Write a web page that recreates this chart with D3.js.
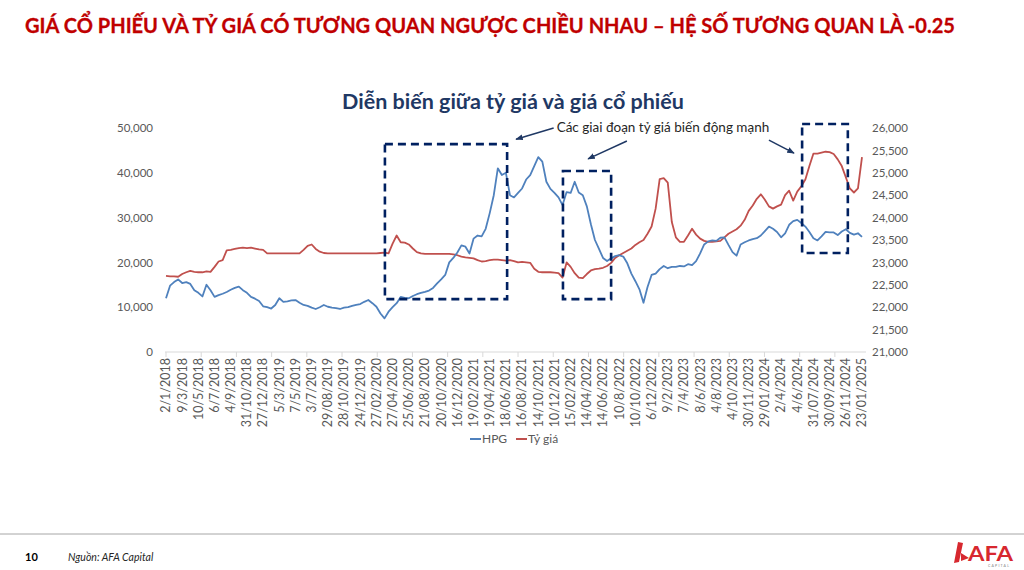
<!DOCTYPE html>
<html lang="vi">
<head>
    <meta charset="UTF-8">
    <title>Diễn biến giữa tỷ giá và giá cổ phiếu</title>
    <script src="https://cdn.jsdelivr.net/npm/d3@7"></script>
    <style>
        body { margin: 0; background: #fff; }
        svg { display: block; font-family: Lato, "Open Sans", sans-serif; }
    </style>
</head>
<body>
<svg></svg>
<script>
    // date labels every 40 trading days; one sample every 10 trading days
    const dateLabels = ["2/1/2018","9/3/2018","10/5/2018","6/7/2018","4/9/2018","31/10/2018","27/12/2018",
        "5/3/2019","7/5/2019","3/7/2019","29/08/2019","28/10/2019","24/12/2019",
        "27/02/2020","27/04/2020","25/06/2020","21/08/2020","20/10/2020","16/12/2020",
        "19/02/2021","19/04/2021","18/06/2021","16/08/2021","14/10/2021","10/12/2021",
        "15/02/2022","14/04/2022","14/06/2022","10/8/2022","10/10/2022","6/12/2022",
        "9/2/2023","7/4/2023","8/6/2023","4/8/2023","4/10/2023","30/11/2023",
        "29/01/2024","2/4/2024","4/6/2024","31/07/2024","30/09/2024","26/11/2024","23/01/2025"];
    const labelStep = 40, tickStep = 87, sampleStep = 10;

    const hpg = [
        12000,14800,15600,16200,15400,15600,15200,13800,13200,12400,
        15000,13800,12300,12700,13000,13400,13900,14300,14600,13800,
        13200,12300,11900,11400,10200,10000,9700,10500,12000,11200,
        11300,11500,11600,11000,10500,10300,9900,9600,10000,10500,
        10100,9900,9800,9600,9900,10000,10300,10500,10700,11200,
        11600,10900,10100,8600,7500,9000,10000,10900,12300,12100,
        12000,12500,12900,13200,13400,13700,14300,15300,16200,17200,
        20000,21000,22200,23800,23500,22000,25300,26000,25800,27500,
        31000,35000,41000,39500,40000,35000,34500,35500,36500,38500,
        39500,41500,43500,42500,38000,36400,35500,34500,32800,35700,
        35500,38000,35600,35000,32500,28500,25000,23000,21000,20300,
        20900,21400,21600,21300,19800,17500,15800,14000,11000,14500,
        17200,17500,18500,19200,18700,19000,19000,19200,19100,19600,
        19400,20300,22000,24000,24700,24900,24800,25500,25600,23900,
        22300,21500,24000,24500,24900,25200,25400,26000,27000,28000,
        27500,26800,25600,26500,28400,29200,29500,28800,28000,26800,
        25400,24900,25800,26800,26700,26700,26100,26900,27400,26600,
        26200,26500,25700];

    const tyGia = [
        22700,22690,22690,22680,22740,22780,22810,22790,22780,22780,
        22800,22790,22900,23020,23050,23270,23280,23300,23320,23330,
        23320,23330,23310,23290,23280,23200,23200,23200,23200,23200,
        23200,23200,23200,23200,23280,23370,23400,23300,23240,23210,
        23200,23200,23200,23200,23200,23200,23200,23200,23200,23200,
        23200,23200,23200,23210,23220,23200,23420,23600,23450,23440,
        23400,23310,23230,23200,23190,23190,23190,23190,23190,23190,
        23190,23180,23160,23130,23110,23100,23090,23050,23020,23030,
        23050,23060,23060,23050,23040,23050,23030,23000,23010,23000,
        22990,22860,22790,22780,22780,22780,22770,22760,22660,23000,
        22900,22760,22660,22650,22740,22820,22850,22860,22880,22920,
        22990,23100,23160,23210,23260,23310,23390,23450,23500,23640,
        23800,24200,24860,24880,24780,23900,23560,23460,23460,23600,
        23750,23620,23530,23480,23460,23460,23470,23480,23560,23640,
        23690,23740,23820,23950,24150,24270,24420,24520,24400,24250,
        24200,24250,24290,24500,24600,24380,24580,24700,24850,25150,
        25430,25430,25450,25470,25460,25420,25300,25150,24900,24650,
        24560,24650,25350];

    const leftTicks = [0, 10000, 20000, 30000, 40000, 50000];
    const rightTicks = [21000, 21500, 22000, 22500, 23000, 23500, 24000, 24500, 25000, 25500, 26000];

    // boxes: [startDay, endDay, lowHPG, highHPG]
    const boxes = [[541, 843, 11800, 46400], [981, 1100, 11800, 40400], [1572, 1685, 22100, 50900]];
    // arrows: [fromDay, fromHPG, toDay, toHPG]
    const arrows = [[958, 50000, 865, 47500], [1139, 47100, 1043, 43100], [1490, 47300, 1552, 44400]];
    const noteText = "Các giai đoạn tỷ giá biến động mạnh";

    const width = 1024, height = 570;
    const blue = "#4f81bd", red = "#c0504d", navy = "#002060", grey = "#595959";

    const svg = d3.select("svg")
        .attr("width", width)
        .attr("height", height)
        .attr("viewBox", `0 0 ${width} ${height}`);

    const lastDay = (hpg.length - 1) * sampleStep;
    const x = d3.scaleLinear().domain([0, lastDay]).range([166, 862]);
    const yL = d3.scaleLinear().domain([0, 50000]).range([352, 128]);
    const yR = d3.scaleLinear().domain([21000, 26000]).range([352, 128]);
    const fmt = d3.format(",");

    // header
    svg.append("text")
        .attr("x", 25).attr("y", 33)
        .attr("fill", "#c00000")
        .attr("font-weight", "bold")
        .attr("font-size", 21)
        .attr("stroke", "#c00000").attr("stroke-width", 0.3)
        .attr("textLength", 930)
        .attr("lengthAdjust", "spacingAndGlyphs")
        .text("GIÁ CỔ PHIẾU VÀ TỶ GIÁ CÓ TƯƠNG QUAN NGƯỢC CHIỀU NHAU – HỆ SỐ TƯƠNG QUAN LÀ -0.25");

    svg.append("text")
        .attr("x", 513).attr("y", 109)
        .attr("text-anchor", "middle")
        .attr("fill", "#1f3864")
        .attr("font-weight", "bold")
        .attr("font-size", 21.5)
        .text("Diễn biến giữa tỷ giá và giá cổ phiếu");

    // axes
    const axisL = svg.append("g")
        .attr("transform", "translate(158,0)")
        .call(d3.axisLeft(yL).tickValues(leftTicks).tickFormat(fmt).tickSize(0).tickPadding(5));
    const axisR = svg.append("g")
        .attr("transform", "translate(867,0)")
        .call(d3.axisRight(yR).tickValues(rightTicks).tickFormat(fmt).tickSize(0).tickPadding(5));
    [axisL, axisR].forEach(g => {
        g.select(".domain").remove();
        g.selectAll("text").attr("fill", grey).attr("font-size", 11.5).attr("font-family", "Lato, sans-serif");
    });

    const axisX = svg.append("g").attr("transform", `translate(0,${yL(0)})`);
    axisX.append("line")
        .attr("x1", 165).attr("x2", 866)
        .attr("stroke", "#d9d9d9");
    axisX.selectAll("line.tick")
        .data(d3.range(0, lastDay + 1, tickStep))
        .join("line")
        .attr("class", "tick")
        .attr("x1", d => x(d)).attr("x2", d => x(d))
        .attr("y1", 0).attr("y2", 5)
        .attr("stroke", "#d9d9d9");
    axisX.selectAll("text")
        .data(dateLabels)
        .join("text")
        .attr("transform", (d, i) => `translate(${x(i * labelStep)},6) rotate(-90)`)
        .attr("text-anchor", "end")
        .attr("dy", "0.35em")
        .attr("fill", grey)
        .attr("font-size", 12.5)
        .text(d => d);

    // lines
    const line = yScale => d3.line()
        .x((d, i) => x(i * sampleStep))
        .y(d => yScale(d));

    svg.append("path")
        .datum(tyGia)
        .attr("fill", "none")
        .attr("stroke", red)
        .attr("stroke-width", 1.8)
        .attr("stroke-linejoin", "round")
        .attr("d", line(yR));

    svg.append("path")
        .datum(hpg)
        .attr("fill", "none")
        .attr("stroke", blue)
        .attr("stroke-width", 1.8)
        .attr("stroke-linejoin", "round")
        .attr("d", line(yL));

    // annotation boxes and arrows
    svg.append("g")
        .selectAll("rect")
        .data(boxes)
        .join("rect")
        .attr("x", d => x(d[0]))
        .attr("y", d => yL(d[3]))
        .attr("width", d => x(d[1]) - x(d[0]))
        .attr("height", d => yL(d[2]) - yL(d[3]))
        .attr("fill", "none")
        .attr("stroke", navy)
        .attr("stroke-width", 2.6)
        .attr("stroke-dasharray", "8,5");

    svg.append("defs").append("marker")
        .attr("id", "head")
        .attr("viewBox", "0 0 10 10")
        .attr("refX", 9).attr("refY", 5)
        .attr("markerWidth", 5).attr("markerHeight", 5)
        .attr("orient", "auto")
        .append("path")
        .attr("d", "M0,1L10,5L0,9z")
        .attr("fill", "#1f3864");

    svg.append("g")
        .selectAll("line")
        .data(arrows)
        .join("line")
        .attr("x1", d => x(d[0])).attr("y1", d => yL(d[1]))
        .attr("x2", d => x(d[2])).attr("y2", d => yL(d[3]))
        .attr("stroke", "#1f3864")
        .attr("stroke-width", 1.5)
        .attr("marker-end", "url(#head)");

    svg.append("text")
        .attr("x", x(arrows[0][0]) + 3)
        .attr("y", yL(arrows[0][1]) + 4)
        .attr("font-size", 13.5)
        .attr("fill", "#262626")
        .text(noteText);

    // legend
    const legend = svg.append("g").attr("transform", "translate(470,439)");
    [["HPG", blue, 0], ["Tỷ giá", red, 46]].forEach(([name, c, dx]) => {
        legend.append("line")
            .attr("x1", dx).attr("x2", dx + 11)
            .attr("stroke", c).attr("stroke-width", 2);
        legend.append("text")
            .attr("x", dx + 12).attr("dy", "0.35em")
            .attr("font-size", 12).attr("fill", grey)
            .text(name);
    });

    // footer
    svg.append("line")
        .attr("x1", 0).attr("x2", width)
        .attr("y1", 534).attr("y2", 534)
        .attr("stroke", "#a6a6a6");
    svg.append("text")
        .attr("x", 25).attr("y", 561)
        .attr("font-size", 11).attr("font-weight", "bold")
        .text("10");
    svg.append("text")
        .attr("x", 68).attr("y", 561)
        .attr("font-size", 10.5).attr("font-style", "italic")
        .attr("fill", "#262626")
        .text("Nguồn: AFA Capital");

    // logo
    const logo = svg.append("g").attr("transform", "translate(952,542)");
    logo.append("path")
        .attr("d", "M6,0L11,1L7,20L2,21ZM9,11L17,16L9,19Z")
        .attr("fill", "#d7282f");
    logo.append("text")
        .attr("x", 16).attr("y", 19)
        .attr("font-size", 21).attr("font-weight", "bold")
        .attr("fill", "#d7282f")
        .attr("textLength", 45)
        .attr("lengthAdjust", "spacingAndGlyphs")
        .text("AFA");
    logo.append("text")
        .attr("x", 36).attr("y", 25)
        .attr("font-size", 3.5)
        .attr("fill", "#7f7f7f")
        .attr("letter-spacing", 1.2)
        .text("CAPITAL");
</script>
</body>
</html>
